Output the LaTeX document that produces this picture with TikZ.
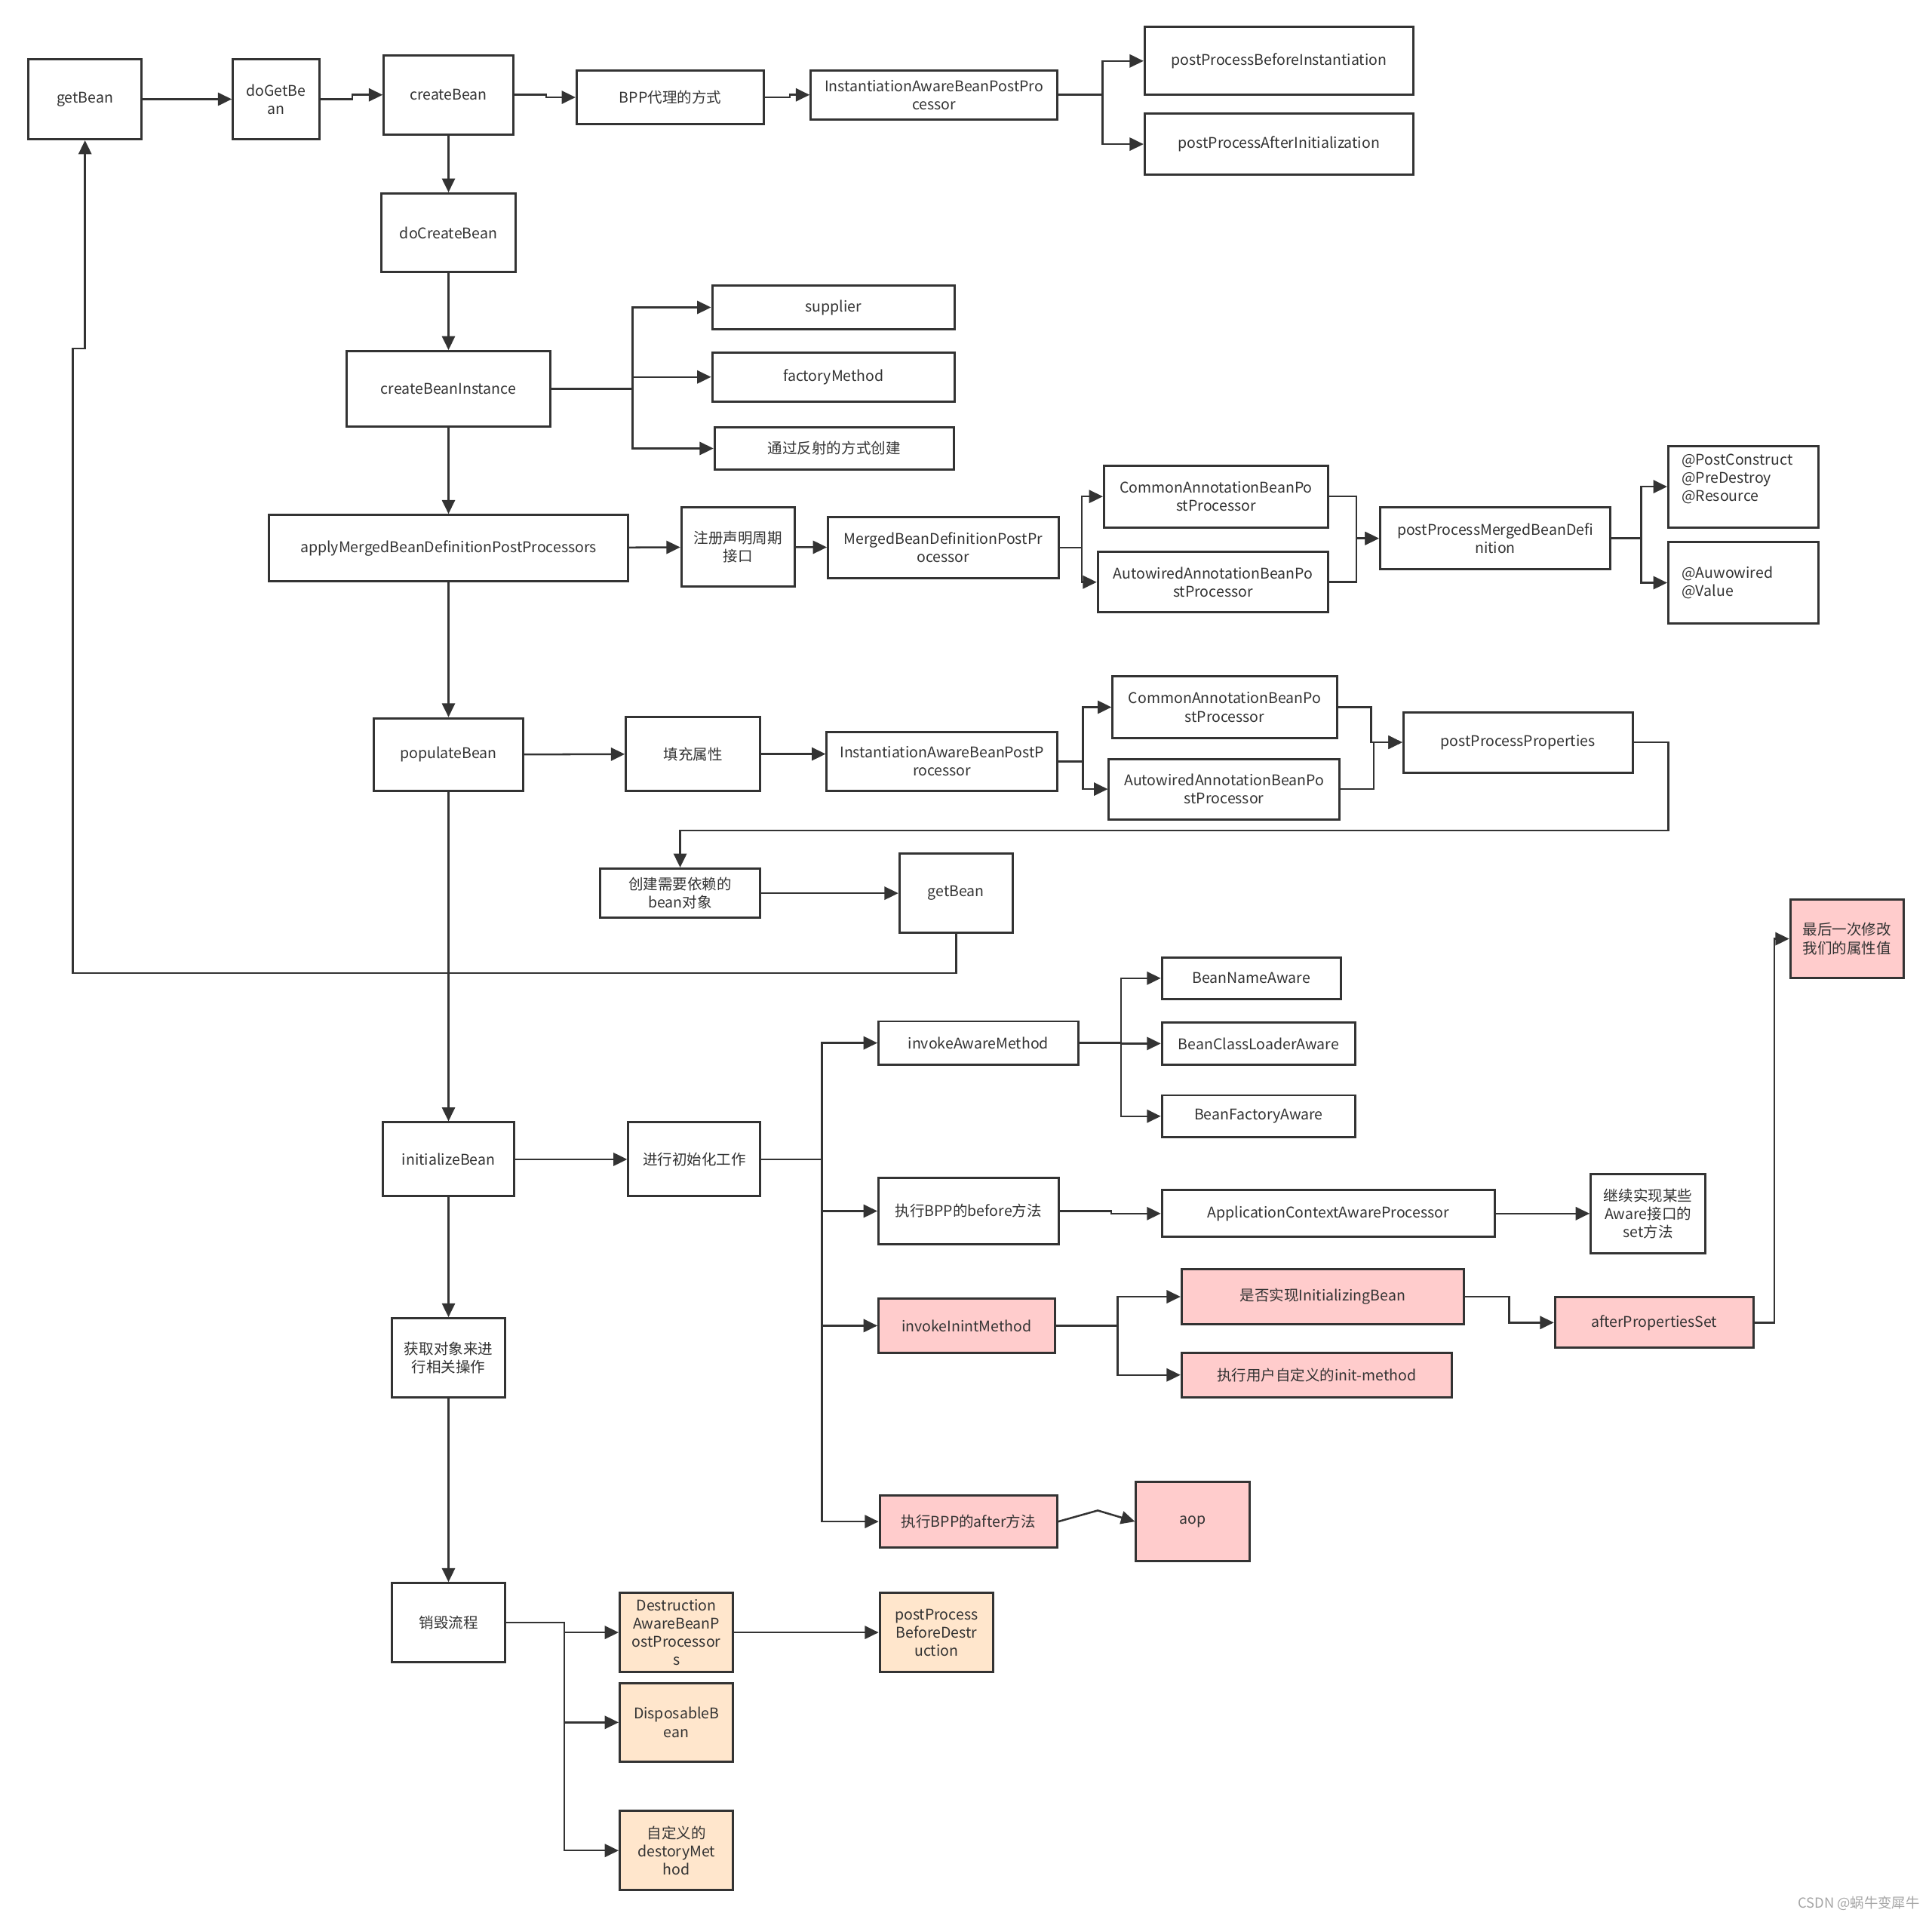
\documentclass[tikz,border=0pt]{standalone}
\usepackage{fontspec}
\setmainfont{Noto Sans CJK SC}
\usetikzlibrary{arrows.meta}
\definecolor{dgray} {RGB}{ 51, 51, 51}
\definecolor{lpink} {RGB}{255,204,204}
\definecolor{lpeach}{RGB}{255,230,204}
\definecolor{wgray} {RGB}{165,165,165}
\tikzset{
  % White step node (size in px of the sketch)
  WB/.style 2 args={rectangle,draw=dgray,fill=white,text=dgray,
             minimum width=#1*0.025cm,minimum height=#2*0.025cm,
             align=center,inner sep=0pt,line width=1.3pt,
             font=\fontsize{8.5}{10.5}\selectfont},
  % Pink init node
  PK/.style 2 args={WB={#1}{#2},fill=lpink},
  % Peach destroy node
  OB/.style 2 args={WB={#1}{#2},fill=lpeach},
  % Arrows
  Arr/.style={-{Triangle[length=8pt,width=7.5pt]},line width=1.1pt,color=dgray},
}
\begin{document}
\begin{tikzpicture}[x=0.025cm,y=-0.025cm]
        \useasboundingbox (0,0) rectangle (1568,1557);
        % Top row
        \node[WB={92}{65}] at (69,80.5) (gb) {getBean};
        \node[WB={70}{65}] at (224,80.5) (dgb) {doGetBe\\an};
        \node[WB={105}{64}] at (364,77) (cb) {createBean};
        \node[WB={152}{44}] at (544,79) (bpp) {BPP代理的方式};
        \node[WB={200}{40}] at (758,77) (iab) {InstantiationAwareBeanPostPro\\cessor};
        \node[WB={218}{55}] at (1038,49.5) (pbi) {postProcessBeforeInstantiation};
        \node[WB={218}{50}] at (1038,117) (pai) {postProcessAfterInitialization};
        \draw[Arr] (gb) -- (dgb);
        \draw[Arr] (dgb.east) -- ++(26,0) |- (cb.west);
        \draw[Arr] (cb.east) -- ++(26,0) |- (bpp.west);
        \draw[Arr] (bpp.east) -- ++(20,0) |- (iab.west);
        \foreach \tg in {pbi,pai}
          \draw[Arr] (iab.east) -- ++(36,0) |- (\tg.west);
        % doCreateBean / createBeanInstance
        \node[WB={109}{64}] at (364,189) (dcb) {doCreateBean};
        \node[WB={165}{61}] at (364,315.5) (cbi) {createBeanInstance};
        \node[WB={197}{35}] at (676.5,249.5) (sup) {supplier};
        \node[WB={197}{40}] at (676.5,306) (fm) {factoryMethod};
        \node[WB={194}{34}] at (677,364) (refl) {通过反射的方式创建};
        \draw[Arr] (cb) -- (dcb);
        \draw[Arr] (dcb) -- (cbi);
        \foreach \tg in {sup,fm,refl}
          \draw[Arr] (cbi.east) -- ++(66,0) |- (\tg.west);
        % applyMergedBeanDefinitionPostProcessors row
        \node[WB={291}{54}] at (364,445) (amb) {applyMergedBeanDefinitionPostProcessors};
        \node[WB={92}{64}] at (599,444) (reg) {注册声明周期\\接口};
        \node[WB={187}{49}] at (765.5,444.5) (mbd) {MergedBeanDefinitionPostPr\\ocessor};
        \node[WB={182}{50}] at (987,403) (cab) {CommonAnnotationBeanPo\\stProcessor};
        \node[WB={187}{49}] at (984.5,472.5) (aab) {AutowiredAnnotationBeanPo\\stProcessor};
        \node[WB={187}{50}] at (1213.5,437) (pmb) {postProcessMergedBeanDefi\\nition};
        \node[WB={122}{66},text width=2.5cm,align=left] at (1415,395) (an1)
              {@PostConstruct\\@PreDestroy\\@Resource\\~};
        \node[WB={122}{66},text width=2.5cm,align=left] at (1415,473) (an2)
              {@Auwowired\\@Value};
        \draw[Arr] (cbi) -- (amb);
        \draw[Arr] (amb) -- (reg);
        \draw[Arr] (reg) -- (mbd);
        \foreach \tg in {cab,aab}
          \draw[Arr] (mbd.east) -- ++(18,0) |- (\tg.west);
        \foreach \sr in {cab,aab}
          \draw[Arr] (\sr.east) -- ++(22,0) |- (pmb.west);
        \foreach \tg in {an1,an2}
          \draw[Arr] (pmb.east) -- ++(24,0) |- (\tg.west);
        % populateBean row
        \node[WB={121}{59}] at (364,612.5) (pb) {populateBean};
        \node[WB={109}{60}] at (562.5,612) (tc) {填充属性};
        \node[WB={187}{48}] at (764.5,618) (iab2) {InstantiationAwareBeanPostP\\rocessor};
        \node[WB={182}{50}] at (994,574) (cab2) {CommonAnnotationBeanPo\\stProcessor};
        \node[WB={187}{49}] at (993.5,640.5) (aab2) {AutowiredAnnotationBeanPo\\stProcessor};
        \node[WB={186}{49}] at (1232,602.5) (ppp) {postProcessProperties};
        \node[WB={130}{40}] at (552,725) (cdep) {创建需要依赖的\\bean对象};
        \node[WB={92}{64}] at (776,725) (gb2) {getBean};
        \draw[Arr] (amb) -- (pb);
        \draw[Arr] (pb) -- (tc);
        \draw[Arr] (tc.east) -- (tc.east -| iab2.west);
        \foreach \tg in {cab2,aab2}
          \draw[Arr] (iab2.east) -- ++(20,0) |- (\tg.west);
        \foreach \sr in {cab2,aab2}
          \draw[Arr] (\sr.east) -- ++(27,0) |- (ppp.west);
        \draw[Arr] (ppp.east) -- ++(28,0) -- ++(0,71.5) -| (cdep.north);
        \draw[Arr] (cdep) -- (gb2);
        % back to getBean
        \draw[Arr] (gb2.south) -- ++(0,32) -- ++(-717,0) -- ++(0,-507) -| (gb.south);
        % initializeBean row
        \node[WB={107}{60}] at (364,941) (ib) {initializeBean};
        \node[WB={107}{60}] at (563.5,941) (ini) {进行初始化工作};
        \draw[Arr] (pb) -- (ib);
        \draw[Arr] (ib) -- (ini);
        \node[WB={162}{35}] at (794,846.5) (iam) {invokeAwareMethod};
        \node[WB={145}{34}] at (1015.5,794) (bna) {BeanNameAware};
        \node[WB={157}{34}] at (1021.5,847) (bcl) {BeanClassLoaderAware};
        \node[WB={157}{34}] at (1021.5,906) (bfa) {BeanFactoryAware};
        \node[WB={146}{54}] at (786,983) (bef) {执行BPP的before方法};
        \node[WB={270}{38}] at (1078,985) (aca) {ApplicationContextAwareProcessor};
        \node[WB={93}{64}] at (1337.5,985) (cont) {继续实现某些\\Aware接口的\\set方法};
        \node[PK={143}{44}] at (784.5,1076) (iim) {invokeInintMethod};
        \node[PK={229}{45}] at (1073.5,1052.5) (isb) {是否实现InitializingBean};
        \node[PK={219}{36}] at (1068.5,1116) (uim) {执行用户自定义的init-method};
        \node[PK={161}{41}] at (1342.5,1073.5) (aps) {afterPropertiesSet};
        \node[PK={92}{64}] at (1499,762) (last) {最后一次修改\\我们的属性值};
        \node[PK={144}{42}] at (786,1235) (aft) {执行BPP的after方法};
        \node[PK={92}{64}] at (968,1235) (aop) {aop};
        \foreach \tg in {iam,bef,iim,aft}
          \draw[Arr] (ini.east) -- ++(49,0) |- (\tg.west);
        \foreach \tg in {bna,bcl,bfa}
          \draw[Arr] (iam.east) -- ++(34,0) |- (\tg.west);
        \draw[Arr] (bef.east) -- ++(42,0) |- (aca.west);
        \draw[Arr] (aca) -- (cont);
        \foreach \tg in {isb,uim}
          \draw[Arr] (iim.east) -- ++(50,0) |- (\tg.west);
        \draw[Arr] (isb.east) -- ++(36,0) |- (aps.west);
        \draw[Arr] (aps.east) -- ++(16,0) |- (last.west);
        \draw[Arr] (aft.east) -- ++(32,-9) -- (aop.west);
        % Destroy column
        \node[WB={92}{64}] at (364,1102) (get) {获取对象来进\\行相关操作};
        \node[WB={92}{64}] at (364,1317) (des) {销毁流程};
        \node[OB={92}{64}] at (549,1325) (dab) {Destruction\\AwareBeanP\\ostProcessor\\s};
        \node[OB={92}{64}] at (549,1398) (disp) {DisposableB\\ean};
        \node[OB={92}{64}] at (549,1502) (cdm) {自定义的\\destoryMet\\hod};
        \node[OB={92}{64}] at (760,1325) (pbd) {postProcess\\BeforeDestr\\uction};
        \draw[Arr] (ib) -- (get);
        \draw[Arr] (get) -- (des);
        \foreach \tg in {dab,disp,cdm}
          \draw[Arr] (des.east) -- ++(47,0) |- (\tg.west);
        \draw[Arr] (dab) -- (pbd);
        % watermark
        \node[font=\fontsize{8}{9}\selectfont,text=wgray,anchor=east]
              at (1563,1545) (wm) {CSDN @蜗牛变犀牛};
      \end{tikzpicture}
\end{document}
